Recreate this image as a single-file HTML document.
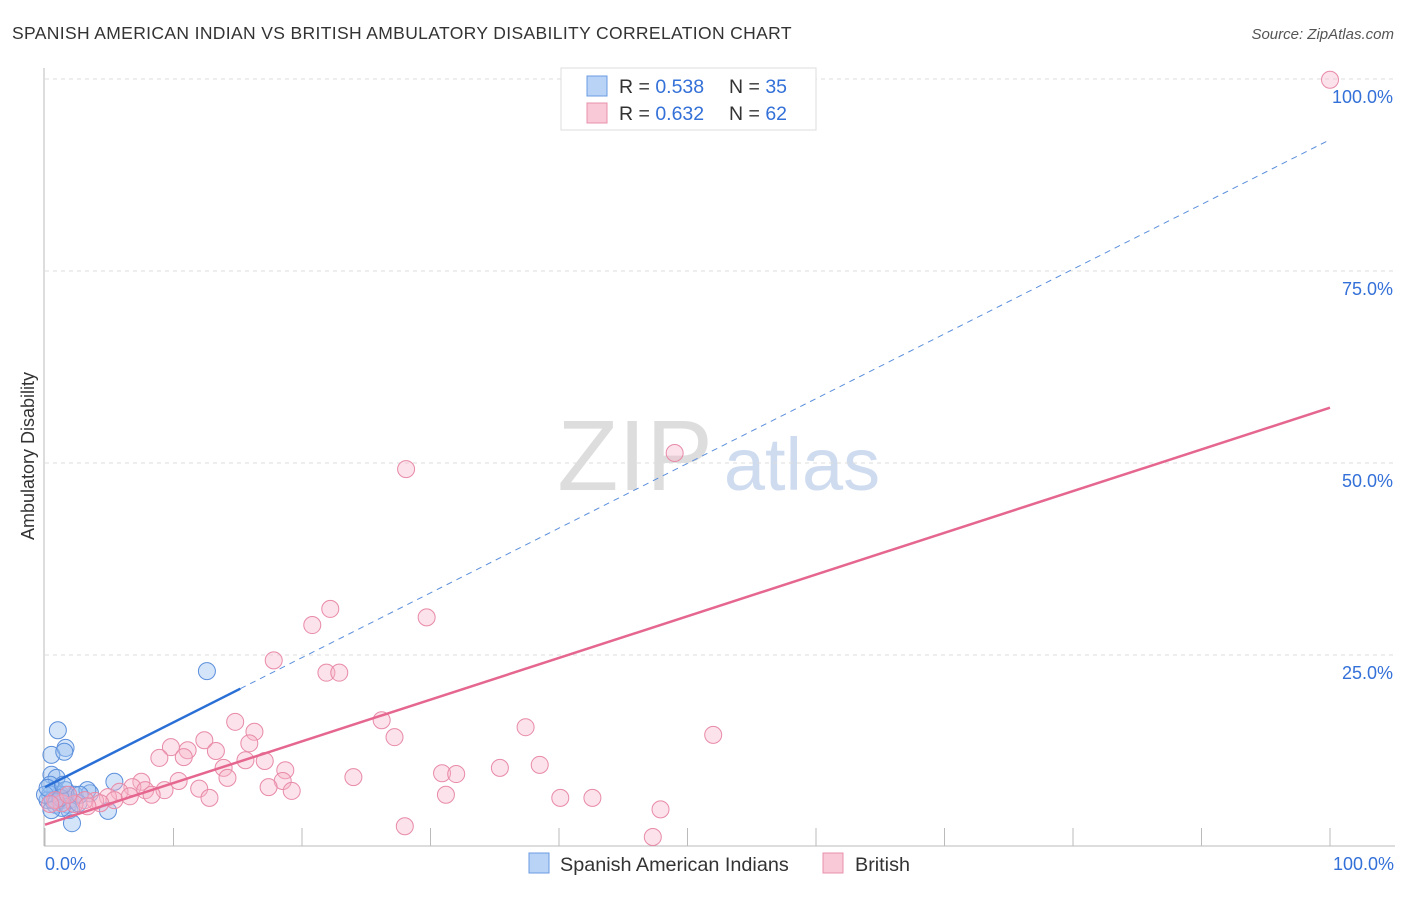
<!DOCTYPE html>
<html><head><meta charset="utf-8"><style>
body{margin:0;background:#fff;font-family:"Liberation Sans",sans-serif;}
svg text{font-family:"Liberation Sans",sans-serif;}
</style></head><body>
<svg id="chart" width="1406" height="892">
<text x="12" y="39" font-size="17.5" letter-spacing="0.35" fill="#333">SPANISH AMERICAN INDIAN VS BRITISH AMBULATORY DISABILITY CORRELATION CHART</text>
<text x="1394" y="39" font-size="15" fill="#555" font-style="italic" text-anchor="end">Source: ZipAtlas.com</text>
<text x="635" y="490" font-size="100" fill="#ddd" font-family="Liberation Serif" text-anchor="middle">ZIP</text>
<text x="802" y="490" font-size="74" fill="#cfdcf0" text-anchor="middle">atlas</text>
<text transform="translate(34,456) rotate(-90)" font-size="18" fill="#333" text-anchor="middle">Ambulatory Disability</text>
<g id="grid"></g><g id="pts"></g><g id="lines"></g>
<rect x="561" y="68" width="255" height="62" fill="#fff" stroke="#ddd"/>
<rect x="587" y="76" width="20" height="20" fill="#b9d3f7" stroke="#6a9be0"/>
<text x="619" y="93" font-size="19.5" fill="#333">R = <tspan fill="#3370d8">0.538</tspan></text>
<text x="729" y="93" font-size="19.5" fill="#333">N = <tspan fill="#3370d8">35</tspan></text>
<rect x="587" y="103" width="20" height="20" fill="#f9c9d7" stroke="#e890ab"/>
<text x="619" y="120" font-size="19.5" fill="#333">R = <tspan fill="#3370d8">0.632</tspan></text>
<text x="729" y="120" font-size="19.5" fill="#333">N = <tspan fill="#3370d8">62</tspan></text>
<text x="45" y="870" font-size="18" fill="#3370d8">0.0%</text>
<text x="1394" y="870" font-size="18" fill="#3370d8" text-anchor="end">100.0%</text>
<rect x="529" y="853" width="20" height="20" fill="#b9d3f7" stroke="#6a9be0"/>
<text x="560" y="871" font-size="19.8" fill="#333">Spanish American Indians</text>
<rect x="823" y="853" width="20" height="20" fill="#f9c9d7" stroke="#e890ab"/>
<text x="855" y="871" font-size="19.8" fill="#333">British</text>
</svg>
<script>
const yTicks=[25,50,75,100];
const yTickLabels=["25.0%","50.0%","75.0%","100.0%"];
const xTicks=[0,10,20,30,40,50,60,70,80,90,100];
const blueX=[1.0,0.5,1.6,1.5,0.5,0.9,0.8,1.2,0.4,0.2,1.3,1.9,2.3,1.8,0.8,1.9,2.1,3.5,3.3,5.4,4.9,12.6,0.4,0.6,1.6,0,0.9,1.3,2.6,1.6,0.5,1.2,0.2,2.7,1.4];
const blueY=[15.2,12.0,12.9,12.4,9.4,9.0,7.4,6.8,6.8,6.1,6.1,6.1,6.8,5.5,5.5,4.8,3.1,7.0,7.4,8.5,4.7,22.9,8.1,6.1,6.8,6.8,5.9,5.1,5.7,7.4,4.8,6.4,7.7,6.8,8.1];
const pinkX=[100,49.0,28.1,22.2,20.8,29.7,17.8,21.9,22.9,14.8,16.3,12.4,9.8,15.9,11.1,13.3,10.8,8.9,17.1,15.6,26.2,27.2,37.4,52.0,13.9,18.7,14.2,24.0,30.9,32.0,35.4,38.5,10.4,18.5,17.4,19.2,7.5,6.8,7.8,9.3,12.0,8.3,12.8,31.2,40.1,42.6,47.9,28.0,47.3,5.8,4.9,3.9,3.1,2.3,1.3,0.8,0.4,1.8,5.4,4.3,6.6,3.3];
const pinkY=[99.9,51.3,49.2,31.0,28.9,29.9,24.3,22.7,22.7,16.3,15.0,13.9,13.0,13.5,12.6,12.5,11.7,11.6,11.2,11.3,16.5,14.3,15.6,14.6,10.3,10.0,9.0,9.1,9.6,9.5,10.3,10.7,8.6,8.6,7.8,7.3,8.5,7.8,7.4,7.4,7.6,6.8,6.4,6.8,6.4,6.4,4.9,2.7,1.3,7.2,6.5,6.0,6.1,5.6,5.7,6.1,5.6,6.8,6.1,5.7,6.6,5.3];
const blueFit=[7.8,0.843], pinkFit=[2.9,0.543];
const NS="http://www.w3.org/2000/svg";
const sx=v=>45+v*12.85, sy=v=>847-v*7.68;
function mk(tag,attrs,parent){const e=document.createElementNS(NS,tag);for(const k in attrs)e.setAttribute(k,attrs[k]);document.getElementById(parent).appendChild(e);return e;}
yTicks.forEach((t,i)=>{
 let l=mk('line',{x1:45,x2:1395,y1:sy(t),y2:sy(t),stroke:'#ddd','stroke-dasharray':'4,4'},'grid');
 
 
 let tx=mk('text',{x:1393,y:sy(t)+24,'font-size':18,fill:'#3370d8','text-anchor':'end'},'grid');tx.textContent=yTickLabels[i];
 
 
});
let ax=mk('line',{x1:44,x2:44,y1:68,y2:846,stroke:'#bbb'},'grid');


let bx=mk('line',{x1:44,x2:1395,y1:846,y2:846,stroke:'#bbb'},'grid');


xTicks.forEach(t=>{let l=mk('line',{x1:sx(t),x2:sx(t),y1:828,y2:846,stroke:'#bbb'},'grid');
 
 });
blueX.forEach((x,i)=>{let c=mk('circle',{cx:sx(x),cy:sy(blueY[i]),r:8.5,fill:'rgba(150,190,240,0.4)',stroke:'#5b8fdc','stroke-width':1},'pts');
 
 });
pinkX.forEach((x,i)=>{let c=mk('circle',{cx:sx(x),cy:sy(pinkY[i]),r:8.5,fill:'rgba(246,180,200,0.38)',stroke:'#e88aa8','stroke-width':1},'pts');
 
 });
const f=(fit,x)=>fit[0]+fit[1]*x;
let bd=mk('line',{x1:sx(15.2),y1:sy(f(blueFit,15.2)),x2:sx(100),y2:sy(f(blueFit,100)),stroke:'#5b8fdc','stroke-width':1,'stroke-dasharray':'6,5'},'lines');


let bl=mk('line',{x1:sx(0),y1:sy(f(blueFit,0)),x2:sx(15.2),y2:sy(f(blueFit,15.2)),stroke:'#2a6fd6','stroke-width':2.5},'lines');


let pl=mk('line',{x1:sx(0),y1:sy(f(pinkFit,0)),x2:sx(100),y2:sy(f(pinkFit,100)),stroke:'#e5668f','stroke-width':2.5},'lines');


</script>
</body></html>
